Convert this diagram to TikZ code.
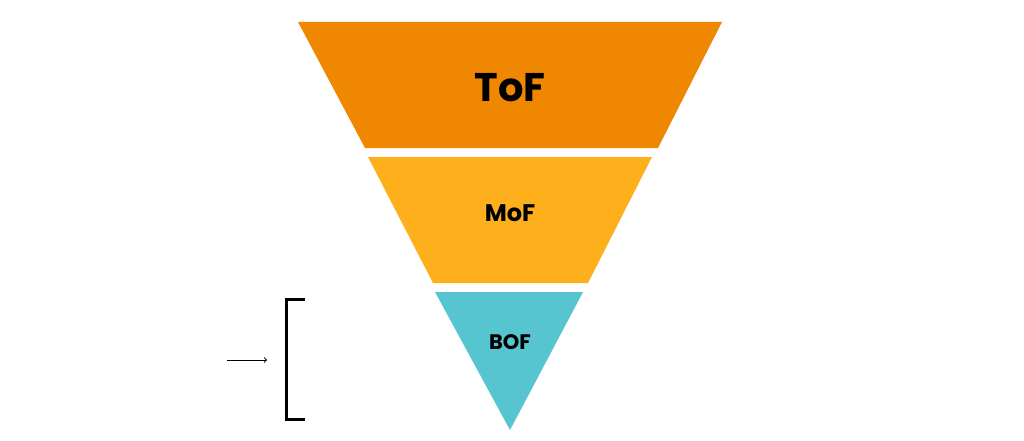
\documentclass[tikz,border=0pt]{standalone}
\usepackage{fontspec}
\setmainfont{Poppins}
\definecolor{tof}{HTML}{F08700}
\definecolor{mof}{HTML}{FDB01B}
\definecolor{bof}{HTML}{56C5D0}
\begin{document}
\begin{tikzpicture}[x=1pt,y=-1pt]
\useasboundingbox (0,0) rectangle (1024,441);
\fill[tof] (298,22) -- (722,22) -- (658,148) -- (365,148) -- cycle;
\fill[mof] (368,157) -- (652,157) -- (588,283) -- (433,283) -- cycle;
\fill[bof] (435,292) -- (583,292) -- (510,430) -- cycle;
\node[font=\fontsize{40}{40}\selectfont\bfseries] (t) at (510,88) {ToF};
\node[font=\fontsize{24}{24}\selectfont\bfseries] (m) at (510,213) {MoF};
\node[font=\fontsize{21}{21}\selectfont\bfseries] (b) at (510,342) {BOF};
\draw[line width=3pt] (305,299) -- (286,299) -- (286,419) -- (305,419);
\coordinate (a1) at (227,360);
\coordinate (a2) at (267,360);
\draw[->,line width=1pt] (a1) -- (a2);
\end{tikzpicture}
\end{document}
